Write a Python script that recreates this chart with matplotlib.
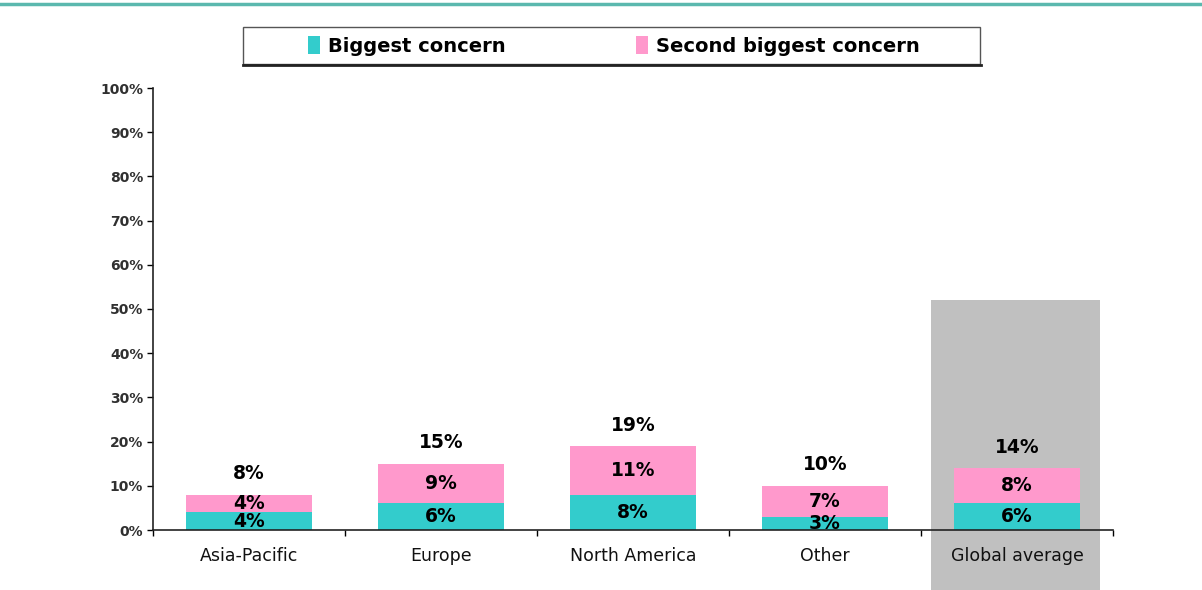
import matplotlib.pyplot as plt
import numpy as np
from matplotlib.patches import Rectangle
from matplotlib.lines import Line2D

# data
regions = ["Asia-Pacific", "Europe", "North America", "Other", "Global average"]
biggest = [4, 6, 8, 3, 6]
second = [4, 9, 11, 7, 8]
yticks = list(range(0, 101, 10))
highlight_top = 52  # grey box behind the global average column

TEAL = "#33CCCC"
PINK = "#FF99CC"
GREY = "#C0C0C0"

W, H = 1202, 590
fig = plt.figure(figsize=(W / 100, H / 100), dpi=100)
ax = fig.add_axes([153 / W, 1 - 530 / H, (1113 - 153) / W, (530 - 88) / H])

x = np.arange(len(regions))
total = np.array(biggest) + np.array(second)

# grey highlight, runs off the bottom of the figure
ax.add_patch(Rectangle((3.55, -30), 0.88, highlight_top + 30, facecolor=GREY,
                       edgecolor="none", zorder=0, clip_on=False))

b1 = ax.bar(x, biggest, width=0.66, color=TEAL, zorder=2, label="Biggest concern")
b2 = ax.bar(x, second, width=0.66, bottom=biggest, color=PINK, zorder=2,
            label="Second biggest concern")

lab_kw = dict(fontsize=13.5, fontweight="bold", color="black")
ax.bar_label(b1, labels=[f"{v}%" for v in biggest], label_type="center", zorder=3, **lab_kw)
ax.bar_label(b2, labels=[f"{v}%" for v in second], label_type="center", zorder=3, **lab_kw)
for xi, t in zip(x, total):
    ax.annotate(f"{t}%", (xi, t), xytext=(0, 15), textcoords="offset points",
                ha="center", va="center", **lab_kw)

ax.set_xlim(-0.5, len(regions) - 0.5)
ax.set_ylim(0, 100)
ax.set_yticks(yticks)
ax.set_yticklabels([f"{v}%" for v in yticks], fontsize=10, fontweight="bold", color="#303030")
ax.set_xticks(x)
ax.set_xticklabels(regions, fontsize=12.5, color="#111111")
ax.set_xticks(np.arange(-0.5, len(regions)), minor=True)
ax.tick_params(axis="x", which="major", length=0, pad=12)
ax.tick_params(axis="x", which="minor", length=4, width=1, direction="out")
ax.tick_params(axis="y", length=4, width=1, direction="out", pad=3)

for s in ["top", "right"]:
    ax.spines[s].set_visible(False)
for s in ["left", "bottom"]:
    ax.spines[s].set_color("#222222")
    ax.spines[s].set_linewidth(1.2)
    ax.spines[s].set_zorder(4)

# teal rule along the top
fig.add_artist(Line2D([0, 1], [1 - 4 / H] * 2, transform=fig.transFigure,
                      color="#5bb8ae", lw=2.5))

# legend box with a shadowed bottom edge
fig.add_artist(Rectangle((243 / W, 1 - 64 / H), (980 - 243) / W, (64 - 27) / H,
                         transform=fig.transFigure, facecolor="white",
                         edgecolor="#555555", lw=1))
fig.add_artist(Line2D([243 / W, 981 / W], [1 - 65 / H] * 2, transform=fig.transFigure,
                      color="#222222", lw=2))
fig.legend(handles=[b1, b2], loc="center left", bbox_to_anchor=(308 / W, 1 - 46 / H),
           ncol=2, frameon=False, borderpad=0, borderaxespad=0,
           handlelength=0.62, handleheight=1.0, handletextpad=0.42, columnspacing=6.7,
           prop={"size": 14, "weight": "bold"})

fig.savefig("out.png", dpi=100)
